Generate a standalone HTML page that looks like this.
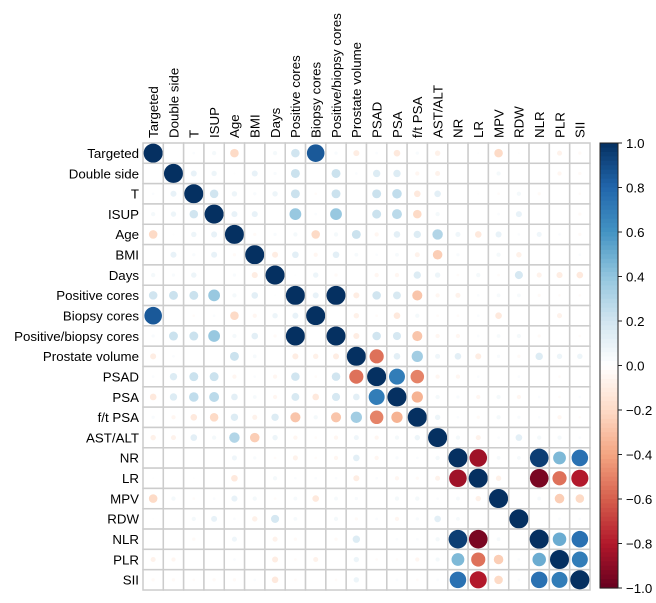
<!DOCTYPE html>
<html><head><meta charset="utf-8"><style>
body{margin:0;background:#fff;}
svg{display:block;font-family:"Liberation Sans",Arial,sans-serif;}
</style></head><body>
<svg id="chart" width="656" height="603"></svg>
<script>
const labels=["Targeted","Double side","T","ISUP","Age","BMI","Days","Positive cores","Biopsy cores","Positive/biopsy cores","Prostate volume","PSAD","PSA","f/t PSA","AST/ALT","NR","LR","MPV","RDW","NLR","PLR","SII"];
// upper triangle rows (row i, columns i+1..21)
const upper=[
[0,0.02,0.05,-0.2,0,0.05,0.2,0.85,0.03,-0.1,0.02,-0.12,0.03,-0.08,0,0.01,-0.2,0.01,0,-0.07,-0.03],
[0.1,0.08,0.01,0.1,0.03,0.22,0,0.22,0.02,0.15,0.15,-0.05,-0.07,0,0,0.05,0,0,-0.05,-0.03],
[0.2,0.08,0.03,0.08,0.22,-0.02,0.22,0,0.22,0.25,-0.12,0.12,0,0.01,-0.02,0.05,-0.03,0,-0.02],
[0.1,0.1,0,0.38,0.02,0.38,0,0.22,0.27,-0.2,0.05,0,0,0.02,0.1,0,0,-0.03],
[-0.03,0.03,0.05,-0.2,0.05,0.22,-0.05,0.12,0.15,0.3,0.07,-0.12,0.1,0.02,0.07,0.02,-0.03],
[-0.1,0.12,-0.05,0.12,0.04,0.02,0.04,-0.07,-0.25,0.03,0,0.05,-0.08,0,0,0.02],
[0.01,0.08,-0.03,0,-0.05,-0.05,0.15,0.08,-0.02,0.05,-0.02,0.18,-0.07,-0.1,-0.12],
[0.1,1,-0.1,0.2,0.17,-0.28,-0.05,-0.07,0.02,0.04,0.04,-0.03,-0.02,-0.02],
[0,-0.08,-0.02,-0.12,0.05,-0.02,-0.02,0.02,-0.12,0,0,-0.07,0],
[-0.1,0.2,0.18,-0.28,-0.05,-0.05,0.02,0.04,0.05,-0.03,0,-0.02],
[-0.55,0.12,0.35,0.07,0.12,-0.1,0.03,-0.03,0.15,0.08,0.08],
[0.7,-0.5,-0.05,-0.05,0.02,0,0.02,0,-0.02,0],
[-0.35,0.05,0.03,-0.05,0.05,-0.05,0.02,-0.02,0.02],
[0.08,0.02,-0.03,0.05,0.03,0.02,-0.05,-0.02],
[0.05,-0.07,0.02,0.12,0.05,0.05,0.02],
[-0.85,0.04,0.04,0.95,0.45,0.75],
[-0.08,0,-0.95,-0.55,-0.8],
[0,0.04,-0.25,-0.2],
[0,0.02,0.02],
[0.5,0.75],
[0.7]
];
const ticks=["1.0","0.8","0.6","0.4","0.2","0.0","\u22120.2","\u22120.4","\u22120.6","\u22120.8","\u22121.0"];
const tickVals=[1,0.8,0.6,0.4,0.2,0,-0.2,-0.4,-0.6,-0.8,-1];
const pal=["#67001F","#B2182B","#D6604D","#F4A582","#FDDBC7","#FFFFFF","#D1E5F0","#92C5DE","#4393C3","#2166AC","#053061"];
function hex(h){return [1,3,5].map(i=>parseInt(h.substr(i,2),16));}
function color(v){const t=(v+1)/2*10;const i=Math.min(9,Math.floor(t));const f=t-i;const a=hex(pal[i]),b=hex(pal[i+1]);return "rgb("+a.map((x,k)=>Math.round(x+(b[k]-x)*f)).join(",")+")";}
const n=labels.length,x0=143,y0=143,cs=447/n;
const M=[];for(let i=0;i<n;i++){M.push(new Array(n).fill(1));}
for(let i=0;i<upper.length;i++)for(let k=0;k<upper[i].length;k++){const j=i+1+k;M[i][j]=upper[i][k];M[j][i]=upper[i][k];}
const X=j=>x0+j*cs, Y=i=>y0+i*cs;
const svg=document.getElementById('chart');const NS="http://www.w3.org/2000/svg";
function mk(t,a){const e=document.createElementNS(NS,t);for(const k in a)e.setAttribute(k,a[k]);svg.appendChild(e);return e;}
const FS=13.3;
for(let i=0;i<n;i++)for(let j=0;j<n;j++){
 const r=mk('rect',{x:X(j),y:Y(i),width:cs,height:cs,fill:'#fff',stroke:'#cccccc','stroke-width':1.5});
 
 
 const v=M[i][j];
 const c=mk('circle',{cx:X(j)+cs/2,cy:Y(i)+cs/2,r:Math.sqrt(Math.abs(v))*cs*0.47,fill:color(v)});
 
 
}
for(let i=0;i<n;i++){
 const t=mk('text',{x:139,y:Y(i)+cs/2+4.8,'text-anchor':'end','font-size':FS,fill:'#000'});t.textContent=labels[i];
 
 
 const cx=X(i)+cs/2+4.8;
 const u=mk('text',{x:cx,y:138,transform:'rotate(-90 '+cx+' 138)','font-size':FS,fill:'#000'});u.textContent=labels[i];
 
 
}
const cb0=143,cb1=588,bx=600,bw=18;
for(let k=0;k<100;k++){const v=1-k/50;const y=cb0+(cb1-cb0)*k/100;const r=mk('rect',{x:bx,y:y,width:bw,height:(cb1-cb0)/100+0.6,fill:color(v-0.01)});
 
 }
const bd=mk('rect',{x:bx,y:cb0,width:bw,height:cb1-cb0,fill:'none',stroke:'#222','stroke-width':1});


for(let k=0;k<ticks.length;k++){const y=cb0+(1-tickVals[k])/2*(cb1-cb0);
 const l=mk('line',{x1:bx+bw,x2:bx+bw+4,y1:y,y2:y,stroke:'#222'});
 
 
 const t=mk('text',{x:626,y:y+4.8,'font-size':FS,fill:'#000'});t.textContent=ticks[k];
 
 }
</script>
</body></html>
